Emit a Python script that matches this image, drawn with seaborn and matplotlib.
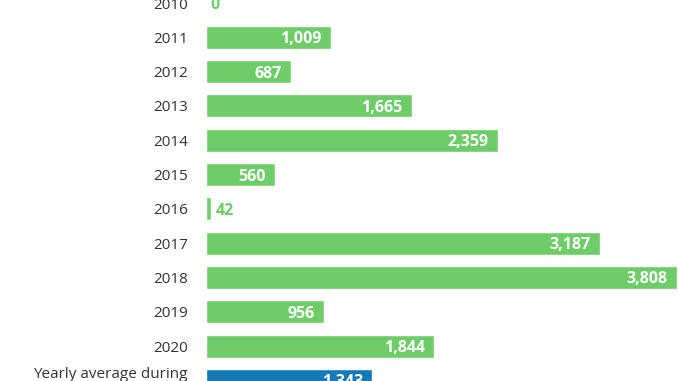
import matplotlib
matplotlib.use("Agg")
import matplotlib.pyplot as plt
import seaborn as sns
import pandas as pd

# -----------------------------
# Data
# -----------------------------
categories = ["2010", "2011", "2012", "2013", "2014", "2015", "2016",
              "2017", "2018", "2019", "2020", "Yearly average during\n2010-2020"]
values = [0, 1009, 687, 1665, 2359, 560, 42, 3187, 3808, 956, 1844, 1343]
groups = ["year"] * 11 + ["average"]

GREEN = "#6ECC69"
BLUE = "#1479B5"

df = pd.DataFrame({"category": categories, "value": values, "group": groups})

# -----------------------------
# Plot
# -----------------------------
sns.set_style("white")
plt.rcParams["font.family"] = ["Open Sans", "DejaVu Sans"]

fig = plt.figure(figsize=(6.78, 3.81), dpi=100)
ax = fig.add_axes([206 / 678, 0, 472 / 678, 1])

sns.barplot(data=df, x="value", y="category", hue="group",
            palette={"year": GREEN, "average": BLUE}, orient="h",
            width=0.67, dodge=False, saturation=1, legend=False, ax=ax)

ax.set_xlim(0, 3819)
ax.set_ylim(11.02, -0.0875)
ax.set_xlabel("")
ax.set_ylabel("")
ax.set_xticks([])
sns.despine(ax=ax, left=True, bottom=True)
ax.tick_params(axis="y", length=0, pad=13, labelsize=11, labelcolor="#333333")

for i, v in enumerate(values):
    label = f"{v:,}"
    if v < 300:
        ax.annotate(label, (v, i), xytext=(3, 0), textcoords="offset points",
                    ha="left", va="center_baseline", color=GREEN,
                    fontsize=11.5, fontweight="bold")
    else:
        ax.annotate(label, (v, i), xytext=(-6.5, 0), textcoords="offset points",
                    ha="right", va="center_baseline", color="white",
                    fontsize=11.5, fontweight="bold")

fig.savefig("out.png", dpi=100)
